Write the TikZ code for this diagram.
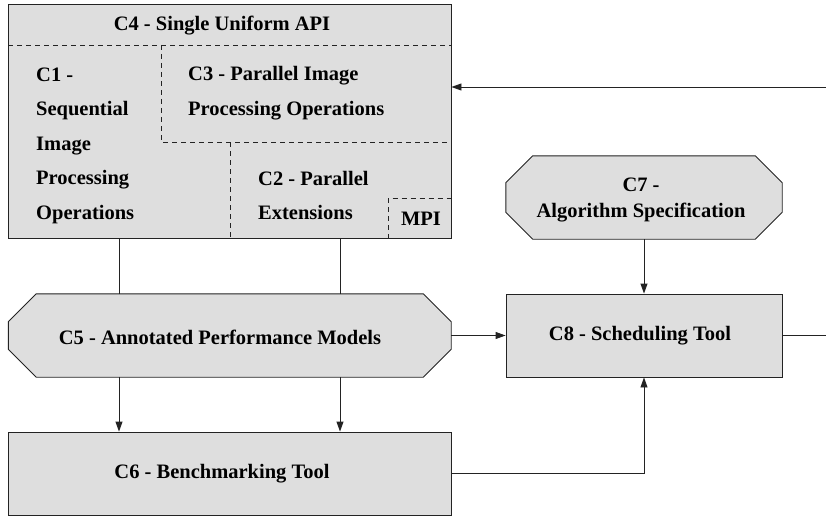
\documentclass[tikz,border=0pt]{standalone}
\usepackage{fontspec}
\setmainfont{Liberation Serif}[BoldFont={Liberation Serif Bold}]
\usetikzlibrary{arrows.meta,calc}
\definecolor{boxfill}{RGB}{222,222,222}
\definecolor{ink}{RGB}{35,35,35}
\begin{document}
\begin{tikzpicture}[x=1pt,y=-1pt,
  box/.style={draw=ink, fill=boxfill, rectangle, inner sep=0pt, line width=0.9pt},
  frame/.style={rectangle, inner sep=0pt},
  octagon/.style={draw=ink, fill=boxfill, line width=0.9pt},
  lbl/.style={font=\bfseries\fontsize{20.5}{34.5}\selectfont, inner sep=0pt, align=left, text=black},
  divider/.style={draw=ink, dash pattern=on 5pt off 4pt, line width=0.8pt},
  wire/.style={draw=ink, line width=0.9pt},
  arr/.style={wire, -{Triangle[length=10pt,width=7pt]}}]
\useasboundingbox (0,0) rectangle (826,516);

% main API block with its sub-components
\node[box, minimum width=442.5pt, minimum height=234.5pt] (c4) at (229.75,121.25) {};
\draw[divider] (c4.west |- 0,45) -- (c4.east |- 0,45);
\draw[divider] (161,45) -- (161,142) -- (c4.east |- 0,142);
\draw[divider] (230,142) -- (230,238.5);
\draw[divider] (388,238.5) -- (388,198) -- (c4.east |- 0,198);

\node[lbl] (c4t) at (222,26) {C4 - Single Uniform API};
\node[lbl, anchor=west] (c1t) at (36,145.5) {C1 -\\Sequential\\Image\\Processing\\Operations};
\node[lbl, anchor=west] (c3t) at (188,93) {C3 - Parallel Image\\Processing Operations};
\node[lbl, anchor=west] (c2t) at (258,195.5) {C2 - Parallel\\Extensions};
\node[lbl] (mpit) at (421,219) {MPI};

% performance models (octagon)
\node[frame, minimum width=442.5pt, minimum height=83pt] (c5) at (229.75,335.5) {};
\draw[octagon] ([xshift=28pt]c5.north west) -- ([xshift=-28pt]c5.north east)
  -- ([yshift=-28pt]c5.north east) -- ([yshift=28pt]c5.south east)
  -- ([xshift=-28pt]c5.south east) -- ([xshift=28pt]c5.south west)
  -- ([yshift=28pt]c5.south west) -- ([yshift=-28pt]c5.north west) -- cycle;
\node[lbl] (c5t) at (220,337) {C5 - Annotated Performance Models};

% benchmarking tool
\node[box, minimum width=442.5pt, minimum height=83pt] (c6) at (229.75,473.5) {};
\node[lbl] (c6t) at (222,474) {C6 - Benchmarking Tool};

% algorithm specification (octagon)
\node[frame, minimum width=276pt, minimum height=83pt] (c7) at (644,197.5) {};
\draw[octagon] ([xshift=27pt]c7.north west) -- ([xshift=-27pt]c7.north east)
  -- ([yshift=-27pt]c7.north east) -- ([yshift=27pt]c7.south east)
  -- ([xshift=-27pt]c7.south east) -- ([xshift=27pt]c7.south west)
  -- ([yshift=27pt]c7.south west) -- ([yshift=-27pt]c7.north west) -- cycle;
\node[lbl, align=center, font=\bfseries\fontsize{20.5}{26}\selectfont] (c7t) at (641,200) {C7 -\\Algorithm Specification};

% scheduling tool
\node[box, minimum width=276pt, minimum height=83pt] (c8) at (644,335.5) {};
\node[lbl] (c8t) at (640,336) {C8 - Scheduling Tool};

% connectors
\coordinate (xa) at (119,0);
\coordinate (xb) at (340,0);
\coordinate (inR) at (826,87);
\coordinate (outR) at (826,335.5);

\draw[arr] (inR) -- (inR -| c4.east);
\draw[wire] (c4.south -| xa) -- (c5.north -| xa);
\draw[wire] (c4.south -| xb) -- (c5.north -| xb);
\draw[arr] (c5.south -| xa) -- (c6.north -| xa);
\draw[arr] (c5.south -| xb) -- (c6.north -| xb);
\draw[arr] (c5.east) -- (c8.west);
\draw[wire] (c8.east) -- (outR);
\draw[arr] (c7.south) -- (c8.north);
\draw[arr] (c6.east) -| (c8.south);
\end{tikzpicture}
\end{document}
